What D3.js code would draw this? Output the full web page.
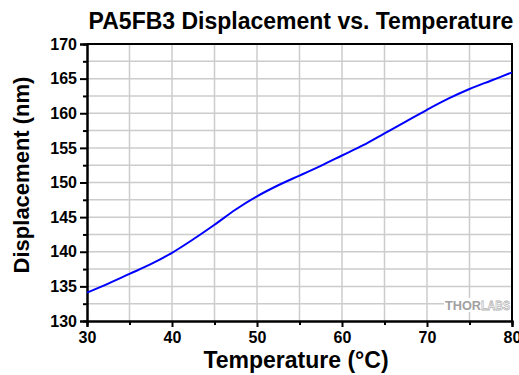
<!DOCTYPE html>
<html>
<head>
<meta charset="utf-8">
<script src="https://cdn.jsdelivr.net/npm/d3@7"></script>
<style>
  body { margin: 0; background: #fff; }
  svg { display: block; font-family: "Liberation Sans", Arial, sans-serif; }
</style>
</head>
<body>
<div id="chart"></div>
<script>
// Data
const temperature = [30, 32.5, 35, 37.5, 40, 42.5, 45, 47.5, 50, 52.5, 55, 57.5, 60, 62.5, 65, 67.5, 70, 72.5, 75, 77.5, 80];
const displacement = [134.1, 135.4, 136.8, 138.2, 139.85, 141.8, 143.9, 146.1, 148.0, 149.6, 151.0, 152.4, 153.9, 155.4, 157.1, 158.8, 160.5, 162.1, 163.5, 164.7, 165.9];
const xTicks = [30, 40, 50, 60, 70, 80];
const yTicks = [130, 135, 140, 145, 150, 155, 160, 165, 170];

const width = 519, height = 375;
const margin = { top: 44, right: 7, bottom: 54, left: 87 };

const svg = d3.select('#chart').append('svg')
  .attr('width', width)
  .attr('height', height);

const x = d3.scaleLinear().domain([30, 80]).range([margin.left, width - margin.right]);
const y = d3.scaleLinear().domain([130, 170]).range([height - margin.bottom, margin.top]);

// grid lines
const grid = svg.append('g').attr('stroke', '#cccccc').attr('stroke-width', 1.5);
grid.selectAll('line.v')
  .data(d3.range(35, 80, 5))
  .enter().append('line')
  .attr('x1', d => x(d)).attr('x2', d => x(d))
  .attr('y1', y(130)).attr('y2', y(170));
grid.selectAll('line.h')
  .data(d3.range(132.5, 170, 2.5))
  .enter().append('line')
  .attr('x1', x(30)).attr('x2', x(80))
  .attr('y1', d => y(d)).attr('y2', d => y(d));

// watermark
const wm = svg.append('g').attr('font-weight', 'bold').attr('font-size', 13);
wm.append('rect')
  .attr('x', 444).attr('y', 298).attr('width', 67).attr('height', 14)
  .attr('fill', '#fff');
wm.append('text')
  .attr('x', 445).attr('y', 310)
  .attr('textLength', 36).attr('lengthAdjust', 'spacingAndGlyphs')
  .attr('fill', '#a0a0a0')
  .text('THOR');
wm.append('text')
  .attr('x', 481).attr('y', 310)
  .attr('textLength', 29).attr('lengthAdjust', 'spacingAndGlyphs')
  .attr('fill', '#fff').attr('stroke', '#b4b4b4').attr('stroke-width', 0.8)
  .text('LABS');

// frame (top and right)
svg.append('path')
  .attr('d', `M${x(30)},${y(170)}H${x(80)}V${y(130)}`)
  .attr('fill', 'none').attr('stroke', '#000').attr('stroke-width', 2);

// axes
const xAxis = svg.append('g')
  .attr('transform', `translate(0,${y(130)})`)
  .call(d3.axisBottom(x).tickValues(xTicks).tickFormat(d3.format('d')).tickSizeOuter(0).tickSize(6).tickPadding(5));
const xMinor = svg.append('g')
  .attr('transform', `translate(0,${y(130)})`)
  .call(d3.axisBottom(x).tickValues(d3.range(35, 80, 10)).tickFormat('').tickSizeOuter(0).tickSize(4));

const yAxis = svg.append('g')
  .attr('transform', `translate(${x(30)},0)`)
  .call(d3.axisLeft(y).tickValues(yTicks).tickFormat(d3.format('d')).tickSizeOuter(0).tickSize(7).tickPadding(3));
const yMinor = svg.append('g')
  .attr('transform', `translate(${x(30)},0)`)
  .call(d3.axisLeft(y).tickValues(d3.range(132.5, 170, 5)).tickFormat('').tickSizeOuter(0).tickSize(4));

[xAxis, xMinor, yAxis, yMinor].forEach(g => {
  g.select('.domain').attr('stroke', '#000').attr('stroke-width', 2);
  g.selectAll('.tick line').attr('stroke', '#000').attr('stroke-width', 2);
  g.selectAll('.tick text')
    .attr('font-family', '"Liberation Sans", Arial, sans-serif')
    .attr('font-size', 16).attr('font-weight', 'bold').attr('fill', '#000');
});

// curve
const line = d3.line()
  .x((d, i) => x(temperature[i]))
  .y(d => y(d))
  .curve(d3.curveCatmullRom);

svg.append('path')
  .datum(displacement)
  .attr('d', line)
  .attr('fill', 'none')
  .attr('stroke', '#0000ff')
  .attr('stroke-width', 2);

// titles
svg.append('text')
  .attr('x', 301).attr('y', 29)
  .attr('text-anchor', 'middle')
  .attr('font-size', 23).attr('font-weight', 'bold')
  .text('PA5FB3 Displacement vs. Temperature');

svg.append('text')
  .attr('x', 296).attr('y', 368)
  .attr('text-anchor', 'middle')
  .attr('font-size', 23).attr('font-weight', 'bold')
  .text('Temperature (°C)');

svg.append('text')
  .attr('transform', 'translate(29,175) rotate(-90)')
  .attr('text-anchor', 'middle')
  .attr('font-size', 22).attr('font-weight', 'bold')
  .text('Displacement (nm)');
</script>
</body>
</html>
